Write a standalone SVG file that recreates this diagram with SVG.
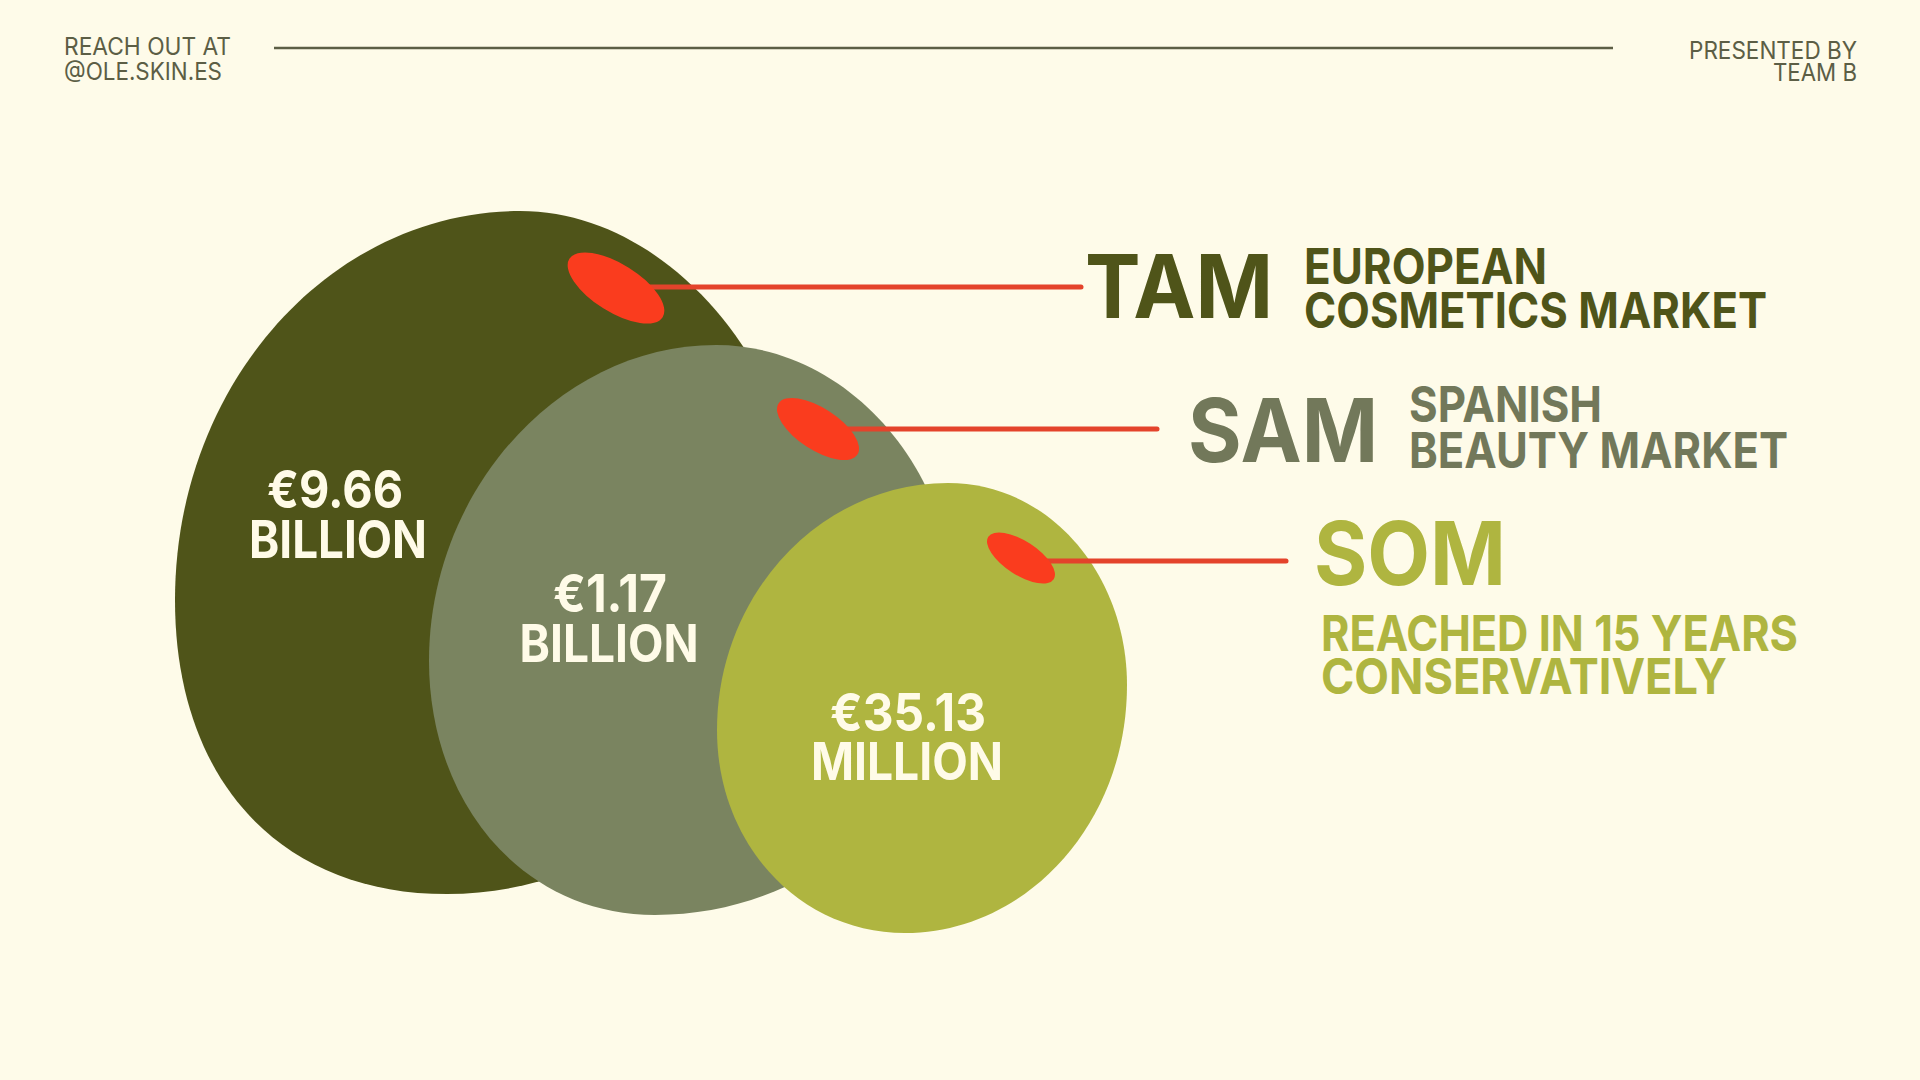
<svg xmlns="http://www.w3.org/2000/svg" width="1920" height="1080" viewBox="0 0 1920 1080">
  <style>
    .hdr { font-family: Inter, "Liberation Sans", sans-serif; font-size: 24px; font-weight: 400; fill: #5C5E45; }
    .big { font-family: Inter, "Liberation Sans", sans-serif; font-size: 88px; font-weight: 700; }
    .sub { font-family: Inter, "Liberation Sans", sans-serif; font-size: 50px; font-weight: 700; }
    .val { font-family: Inter, "Liberation Sans", sans-serif; font-size: 52px; font-weight: 700; fill: #FFFBE8; text-anchor: middle; }
    .pim { fill: #FA3C1E; }
    .conn { stroke: #E4432B; stroke-width: 5; stroke-linecap: round; fill: none; }
  </style>
  <rect width="1920" height="1080" fill="#FEFBE9"/>

  <g id="header">
    <text class="hdr" x="64" y="55" textLength="167" lengthAdjust="spacingAndGlyphs">REACH OUT AT</text>
    <text class="hdr" x="64" y="80" textLength="158" lengthAdjust="spacingAndGlyphs">@OLE.SKIN.ES</text>
    <line x1="274" y1="48" x2="1613" y2="48" stroke="#5C5E45" stroke-width="2.5"/>
    <text class="hdr" x="1689" y="59" textLength="168" lengthAdjust="spacingAndGlyphs">PRESENTED BY</text>
    <text class="hdr" x="1773" y="81" textLength="84" lengthAdjust="spacingAndGlyphs">TEAM B</text>
  </g>

  <g id="tam">
    <path d="M520,211 C675,211 805,380 805,545 C805,730 640,894 447,894 C280,894 175,780 175,600 C175,385 330,211 520,211 Z" fill="#4F5419"/>
  </g>
  <g id="sam">
    <path d="M716,345 C848,345 955,470 955,612 C955,790 820,915 655,915 C520,915 429,800 429,661 C429,490 560,345 716,345 Z" fill="#7A8460"/>
  </g>
  <g id="som">
    <path d="M948,483 C1050,483 1127,575 1127,685 C1127,825 1025,933 905,933 C800,933 717,845 717,730 C717,595 820,483 948,483 Z" fill="#AFB540"/>
  </g>

  <g id="connectors">
    <line class="conn" x1="630" y1="287" x2="1081" y2="287"/>
    <line class="conn" x1="830" y1="429" x2="1157" y2="429"/>
    <line class="conn" x1="1030" y1="561" x2="1286" y2="561"/>
  </g>

  <g id="tam-pimento"><ellipse class="pim" cx="616" cy="288" rx="55" ry="24" transform="rotate(32 616 288)"/></g>
  <g id="sam-pimento"><ellipse class="pim" cx="818" cy="429" rx="47" ry="21" transform="rotate(33 818 429)"/></g>
  <g id="som-pimento"><ellipse class="pim" cx="1021" cy="558" rx="39" ry="17" transform="rotate(33 1021 558)"/></g>

  <g id="tam-value">
    <text class="val" x="335" y="508" textLength="136" lengthAdjust="spacingAndGlyphs">€9.66</text>
    <text class="val" x="338" y="558" textLength="178" lengthAdjust="spacingAndGlyphs">BILLION</text>
  </g>
  <g id="sam-value">
    <text class="val" x="610" y="612" textLength="114" lengthAdjust="spacingAndGlyphs">€1.17</text>
    <text class="val" x="609" y="662" textLength="179" lengthAdjust="spacingAndGlyphs">BILLION</text>
  </g>
  <g id="som-value">
    <text class="val" x="908" y="731" textLength="156" lengthAdjust="spacingAndGlyphs">€35.13</text>
    <text class="val" x="907" y="780" textLength="192" lengthAdjust="spacingAndGlyphs">MILLION</text>
  </g>

  <g id="tam-label" fill="#4F5419">
    <text class="big" x="1085" y="318" textLength="188" lengthAdjust="spacingAndGlyphs">TAM</text>
    <text class="sub" x="1304" y="284" textLength="243" lengthAdjust="spacingAndGlyphs">EUROPEAN</text>
    <text class="sub" x="1304" y="328" textLength="463" lengthAdjust="spacingAndGlyphs">COSMETICS MARKET</text>
  </g>
  <g id="sam-label" fill="#72785A">
    <text class="big" x="1188" y="462" textLength="190" lengthAdjust="spacingAndGlyphs">SAM</text>
    <text class="sub" x="1409" y="422" textLength="193" lengthAdjust="spacingAndGlyphs">SPANISH</text>
    <text class="sub" x="1409" y="468" textLength="379" lengthAdjust="spacingAndGlyphs">BEAUTY MARKET</text>
  </g>
  <g id="som-label" fill="#AFB540">
    <text class="big" x="1314" y="585" textLength="192" lengthAdjust="spacingAndGlyphs">SOM</text>
    <text class="sub" x="1321" y="651" textLength="477" lengthAdjust="spacingAndGlyphs">REACHED IN 15 YEARS</text>
    <text class="sub" x="1321" y="694" textLength="406" lengthAdjust="spacingAndGlyphs">CONSERVATIVELY</text>
  </g>
</svg>
